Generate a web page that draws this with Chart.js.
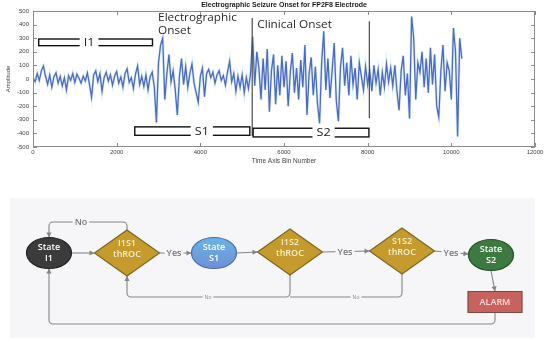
<!DOCTYPE html>
<html>
<head>
<meta charset="utf-8">
<script src="https://cdn.jsdelivr.net/npm/chart.js@4.4.1/dist/chart.umd.min.js"></script>
<style>
html, body { margin: 0; padding: 0; background: #fff; }
#wrap { position: relative; width: 550px; height: 346px; overflow: hidden; }
#eeg { position: absolute; left: 0; top: 0; }
#flow { position: absolute; left: 0; top: 172px; }
</style>
</head>
<body>
<div id="wrap">
  <canvas id="eeg" width="550" height="172"></canvas>
  <canvas id="flow" width="550" height="174"></canvas>
</div>
<script>
// ---- EEG trace (one value every 50 bins) ----
const binStep = 50
const amplitude = [
  10, -20, 40, -10, 60, 95, 20, -40, 30, -60,
  15, 45, -30, 20, -50, 10, -80, 25, -10, 40,
  -25, 35, 5, -30, 20, -15, 45, -40, -135, 30,
  60, -20, 40, -90, 10, 50, -15, 30, -45, 20,
  55, -30, 15, -60, 40, 75, -25, 10, -70, 35,
  95, -40, 20, -55, 30, -80, 15, 50, -60, -320,
  120, 250, 300, -150, 40, 180, -20, 60, -80, -265,
  20, 150, -40, 90, -60, 40, 110, -30, -100, -170,
  20, 80, -130, 40, 70, 10, 50, -30, 30, 60,
  -10, 25, -45, 50, 130, -20, 40, -90, 20, -60,
  30, -100, 10, -70, 40, 310, -50, 200, 80, -150,
  150, -80, 220, -240, 60, 180, -185, 100, -120, 170,
  -60, 130, -200, 50, 190, -100, 80, -150, 140, -60,
  250, -265, 40, 160, -120, 90, -180, -325, 120, 350,
  -80, 150, -140, 60, 265, -160, -310, 90, 230, -50,
  120, -120, 170, -40, 80, -150, 120, 20, -80, 90,
  -40, 60, -90, 100, -30, 70, -120, 50, -60, 110,
  -20, 80, -50, 100, -90, -230, 60, 170, -120, 40,
  -290, 460, 300, -150, 120, 50, 200, -60, 150, -100,
  230, -40, 180, -200, -280, 60, 250, -90, 120, 60,
  -150, 375, 200, -423, 300, 150
]
const xTicks = [0, 2000, 4000, 6000, 8000, 10000, 12000]
const yTicks = [-500, -400, -300, -200, -100, 0, 100, 200, 300, 400, 500]

// onset markers and state bars, in bins / amplitude units
const onsetLines = [
  { bin: 5240, top: 448, bottom: -420 },
  { bin: 8040, top: 424, bottom: -288 }
]
const onsetNotes = [
  { lines: ['Electrographic', 'Onset'], bin: 2990, amp: [448, 350] },
  { lines: ['Clinical Onset'], bin: 5360, amp: [397] }
]
const stateBars = [
  { label: 'I1', start: 136, end: 2856, top: 294, bottom: 245, mid: 1340 },
  { label: 'S1', start: 2433, end: 5183, top: -352, bottom: -414, mid: 4035 },
  { label: 'S2', start: 5262, end: 8030, top: -362, bottom: -426, mid: 6946 }
]

const trace = amplitude.map((v, i) => ({ x: i * binStep, y: v }))

const eegDecor = {
  id: 'eegDecor',
  afterDatasetsDraw(chart) {
    const { ctx, chartArea: a, scales: { x, y } } = chart
    ctx.save()
    // box with inward ticks, matlab style
    ctx.strokeStyle = '#8c8c8c'
    ctx.lineWidth = 1
    ctx.strokeRect(Math.round(a.left) + 0.5, Math.round(a.top) + 0.5, Math.round(a.right - a.left) - 1, Math.round(a.bottom - a.top) - 1)
    ctx.beginPath()
    xTicks.forEach(t => {
      const px = Math.round(x.getPixelForValue(t)) + 0.5
      ctx.moveTo(px, a.bottom); ctx.lineTo(px, a.bottom - 4)
      ctx.moveTo(px, a.top); ctx.lineTo(px, a.top + 4)
    })
    yTicks.forEach(t => {
      const py = Math.round(y.getPixelForValue(t)) + 0.5
      ctx.moveTo(a.left, py); ctx.lineTo(a.left + 4, py)
      ctx.moveTo(a.right, py); ctx.lineTo(a.right - 4, py)
    })
    ctx.stroke()

    // onset lines
    ctx.strokeStyle = '#4a4a4a'
    ctx.lineWidth = 1.2
    onsetLines.forEach(l => {
      const px = x.getPixelForValue(l.bin)
      ctx.beginPath()
      ctx.moveTo(px, y.getPixelForValue(l.top))
      ctx.lineTo(px, y.getPixelForValue(l.bottom))
      ctx.stroke()
    })

    // state bars
    stateBars.forEach(b => {
      const x0 = x.getPixelForValue(b.start), x1 = x.getPixelForValue(b.end)
      const y0 = y.getPixelForValue(b.top), y1 = y.getPixelForValue(b.bottom)
      ctx.strokeStyle = '#111'
      ctx.lineWidth = 1.4
      ctx.strokeRect(x0, y0, x1 - x0, y1 - y0)
      ctx.font = '11.5px "Open Sans"'
      const w = ctx.measureText(b.label).width * 1.1
      const cx = x.getPixelForValue(b.mid), cy = (y0 + y1) / 2
      ctx.fillStyle = '#fff'
      ctx.fillRect(cx - w / 2 - 4, y0 - 2, w + 8, y1 - y0 + 4)
      ctx.fillStyle = '#222'
      ctx.textBaseline = 'middle'
      ctx.textAlign = 'center'
      ctx.save()
      ctx.translate(cx, cy + 0.5)
      ctx.scale(1.1, 1)
      ctx.fillText(b.label, 0, 0)
      ctx.restore()
    })

    // onset notes
    ctx.fillStyle = '#2a2a2a'
    ctx.font = '10px "Open Sans"'
    ctx.textAlign = 'left'
    ctx.textBaseline = 'middle'
    onsetNotes.forEach(n => {
      const px = x.getPixelForValue(n.bin)
      n.lines.forEach((t, i) => {
        ctx.save()
        ctx.translate(px, y.getPixelForValue(n.amp[i]))
        ctx.scale(1.18, 1)
        ctx.fillText(t, 0, 0)
        ctx.restore()
      })
    })

    // title
    ctx.fillStyle = '#1a1a1a'
    ctx.font = 'bold 7px "Liberation Sans"'
    ctx.textAlign = 'center'
    ctx.fillText('Electrographic Seizure Onset for FP2F8 Electrode', (a.left + a.right) / 2, 5.5)
    ctx.restore()
  }
}

new Chart(document.getElementById('eeg'), {
  type: 'line',
  data: {
    datasets: [
      { data: trace, borderColor: 'rgba(150,210,240,0.3)', borderWidth: 3, pointRadius: 0, tension: 0 },
      { data: trace, borderColor: '#2f3fae', borderWidth: 1.35, pointRadius: 0, tension: 0 }
    ]
  },
  options: {
    responsive: false,
    animation: false,
    layout: { padding: { left: 0, right: 15, top: 11, bottom: 0 } },
    plugins: { legend: { display: false }, tooltip: { enabled: false } },
    scales: {
      x: {
        type: 'linear', min: 0, max: 12000,
        grid: { display: false, drawTicks: false }, border: { display: false },
        ticks: { stepSize: 2000, padding: 2, color: '#444', font: { family: 'Liberation Sans', size: 6 }, maxRotation: 0, callback: v => String(v) },
        title: { display: true, text: 'Time Axis Bin Number', color: '#444', font: { family: 'Liberation Sans', size: 6.5 }, padding: { top: 0, bottom: 7 } },
        afterFit: s => { s.height = 25 }
      },
      y: {
        min: -500, max: 500,
        grid: { display: false, drawTicks: false }, border: { display: false },
        ticks: { stepSize: 100, padding: 4, color: '#444', font: { family: 'Liberation Sans', size: 6 }, callback: v => String(v) },
        title: { display: true, text: 'Amplitude', color: '#444', font: { family: 'Liberation Sans', size: 6 }, padding: { top: 5, bottom: 0 } },
        afterFit: s => { s.width = 33 }
      }
    }
  },
  plugins: [eegDecor]
})

// ---- state flow diagram (panel units) ----
const flowNodes = [
  { id: 'I1', shape: 'ellipse', x: 39, y: 55, lines: ['State', 'I1'], fill: '#3b3b3b', stroke: '#222' },
  { id: 'I1S1', shape: 'diamond', x: 117, y: 55, lines: ['I1S1', 'thROC'], fill: '#c59b2d', stroke: '#7d6620' },
  { id: 'S1', shape: 'ellipse', x: 204, y: 55, lines: ['State', 'S1'], fill: ['#6ab4e4', '#6f8fd8'], stroke: '#4d6ea8' },
  { id: 'I1S2', shape: 'diamond', x: 280, y: 54, lines: ['I1S2', 'thROC'], fill: '#c59b2d', stroke: '#7d6620' },
  { id: 'S1S2', shape: 'diamond', x: 392, y: 53, lines: ['S1S2', 'thROC'], fill: '#c59b2d', stroke: '#7d6620' },
  { id: 'S2', shape: 'ellipse', x: 481, y: 57, lines: ['State', 'S2'], fill: '#3d7a42', stroke: '#24502a' },
  { id: 'ALARM', shape: 'rect', x: 485, y: 104, lines: ['ALARM'], fill: '#c7625e', stroke: '#7a4a40' }
]
const flowEdges = [
  { pts: [[61.5, 55], [84.5, 55]], arrow: true },
  { pts: [[149.5, 55], [181.5, 55]], arrow: true, label: 'Yes', at: [164, 55] },
  { pts: [[226.5, 55], [247.5, 54]], arrow: true },
  { pts: [[312.5, 54], [359.5, 53]], arrow: true, label: 'Yes', at: [335, 53.5] },
  { pts: [[424.5, 53], [458.5, 56]], arrow: true, label: 'Yes', at: [441, 54.5] },
  { pts: [[117, 32], [117, 24], [39, 24], [39, 39.5]], arrow: true, label: 'No', at: [71, 24] },
  { pts: [[280, 77], [280, 99], [117, 99], [117, 78]], arrow: true, label: 'No', at: [198, 99], small: true },
  { pts: [[392, 76], [392, 99], [280, 99]], arrow: false, label: 'No', at: [346, 99], small: true },
  { pts: [[481, 72.5], [485, 93.5]], arrow: true },
  { pts: [[485, 114.5], [485, 126], [39, 126], [39, 70.5]], arrow: true }
]

function pathRounded(ctx, pts, r) {
  ctx.beginPath()
  ctx.moveTo(pts[0][0], pts[0][1])
  for (let i = 1; i < pts.length - 1; i++) {
    ctx.arcTo(pts[i][0], pts[i][1], pts[i + 1][0], pts[i + 1][1], r)
  }
  ctx.lineTo(pts[pts.length - 1][0], pts[pts.length - 1][1])
  ctx.stroke()
}

function arrowHead(ctx, p0, p1) {
  const ang = Math.atan2(p1[1] - p0[1], p1[0] - p0[0])
  ctx.save()
  ctx.translate(p1[0], p1[1])
  ctx.rotate(ang)
  ctx.beginPath()
  ctx.moveTo(0, 0)
  ctx.lineTo(-5, -2.6)
  ctx.lineTo(-5, 2.6)
  ctx.closePath()
  ctx.fill()
  ctx.restore()
}

const flowDecor = {
  id: 'flowDecor',
  beforeDatasetsDraw(chart) {
    const { ctx, chartArea: a } = chart
    ctx.save()
    ctx.fillStyle = '#f6f6f8'
    ctx.fillRect(a.left, a.top, a.right - a.left, a.bottom - a.top)
    ctx.restore()
  },
  afterDatasetsDraw(chart) {
    const { ctx, scales: { x, y } } = chart
    const P = p => [x.getPixelForValue(p[0]), y.getPixelForValue(p[1])]
    ctx.save()
    // edges
    flowEdges.forEach(e => {
      const pts = e.pts.map(P)
      ctx.strokeStyle = '#858585'
      ctx.fillStyle = '#858585'
      ctx.lineWidth = 1.1
      pathRounded(ctx, pts, 4)
      if (e.arrow) arrowHead(ctx, pts[pts.length - 2], pts[pts.length - 1])
      if (e.label) {
        const [lx, ly] = P(e.at)
        ctx.font = e.small ? '5px "Open Sans"' : '600 9px "Open Sans"'
        const w = ctx.measureText(e.label).width
        ctx.fillStyle = '#f6f6f8'
        ctx.fillRect(lx - w / 2 - 2, ly - (e.small ? 3 : 5), w + 4, e.small ? 6 : 10)
        ctx.fillStyle = e.small ? '#888' : '#777'
        ctx.textAlign = 'center'
        ctx.textBaseline = 'middle'
        ctx.fillText(e.label, lx, ly + 0.5)
      }
    })
    // nodes
    flowNodes.forEach(n => {
      const [cx, cy] = P([n.x, n.y])
      ctx.beginPath()
      let top = cy - 16, bot = cy + 16
      if (n.shape === 'ellipse') {
        ctx.ellipse(cx, cy, 22.5, 15.5, 0, 0, Math.PI * 2)
      } else if (n.shape === 'diamond') {
        ctx.moveTo(cx, cy - 23); ctx.lineTo(cx + 32.5, cy); ctx.lineTo(cx, cy + 23); ctx.lineTo(cx - 32.5, cy); ctx.closePath()
      } else {
        ctx.rect(cx - 27, cy - 10.5, 54, 21)
      }
      if (Array.isArray(n.fill)) {
        const g = ctx.createLinearGradient(0, top, 0, bot)
        g.addColorStop(0, n.fill[0]); g.addColorStop(1, n.fill[1])
        ctx.fillStyle = g
      } else {
        ctx.fillStyle = n.fill
      }
      ctx.fill()
      ctx.strokeStyle = n.stroke
      ctx.lineWidth = 1.2
      ctx.stroke()
      ctx.fillStyle = n.shape === 'diamond' ? '#f8ecca' : (n.shape === 'rect' ? '#f8dcdc' : '#ffffff')
      ctx.font = '600 9px "Open Sans"'
      ctx.textAlign = 'center'
      ctx.textBaseline = 'middle'
      if (n.lines.length === 1) {
        ctx.fillText(n.lines[0], cx, cy + 0.5)
      } else {
        const off = n.shape === 'diamond' ? [-9.5, 1.5] : [-5.5, 5.5]
        ctx.fillText(n.lines[0], cx, cy + off[0])
        ctx.fillText(n.lines[1], cx, cy + off[1])
      }
    })
    ctx.restore()
  }
}

new Chart(document.getElementById('flow'), {
  type: 'scatter',
  data: { datasets: [{ data: flowNodes.map(n => ({ x: n.x, y: n.y })), pointRadius: 0 }] },
  options: {
    responsive: false,
    animation: false,
    layout: { padding: { left: 10, right: 15, top: 26, bottom: 8 } },
    plugins: { legend: { display: false }, tooltip: { enabled: false } },
    scales: {
      x: { type: 'linear', min: 0, max: 525, display: false },
      y: { type: 'linear', min: 0, max: 140, reverse: true, display: false }
    }
  },
  plugins: [flowDecor]
})
</script>
</body>
</html>
